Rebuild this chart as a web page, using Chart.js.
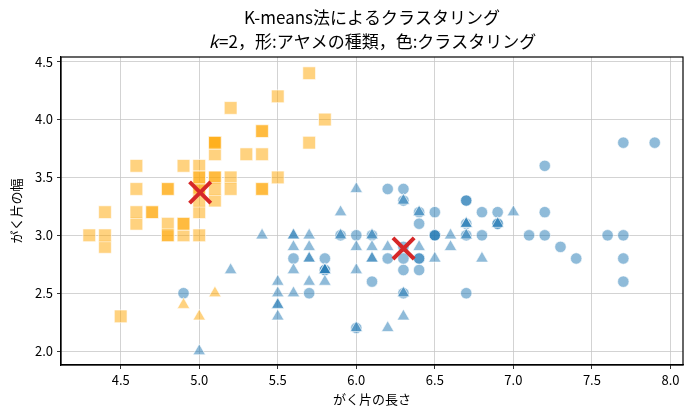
<!DOCTYPE html>
<html>
<head>
<meta charset="utf-8">
<script src="https://cdn.jsdelivr.net/npm/chart.js@4.4.0/dist/chart.umd.min.js"></script>
<style>
  html, body { margin: 0; padding: 0; background: #fff; }
  #wrap { width: 691px; height: 418px; position: relative; }
</style>
</head>
<body>
<div id="wrap"><canvas id="kmeansChart"></canvas></div>
<script>
// がく片の長さ / 幅 (iris), 形 = 種類, 色 = クラスタ
const setosaLen = [5.1,4.9,4.7,4.6,5.0,5.4,4.6,5.0,4.4,4.9,5.4,4.8,4.8,4.3,5.8,5.7,5.4,5.1,5.7,5.1,5.4,5.1,4.6,5.1,4.8,5.0,5.0,5.2,5.2,4.7,4.8,5.4,5.2,5.5,4.9,5.0,5.5,4.9,4.4,5.1,5.0,4.5,4.4,5.0,5.1,4.8,5.1,4.6,5.3,5.0];
const setosaWid = [3.5,3.0,3.2,3.1,3.6,3.9,3.4,3.4,2.9,3.1,3.7,3.4,3.0,3.0,4.0,4.4,3.9,3.5,3.8,3.8,3.4,3.7,3.6,3.3,3.4,3.0,3.4,3.5,3.4,3.2,3.1,3.4,4.1,4.2,3.1,3.2,3.5,3.6,3.0,3.4,3.5,2.3,3.2,3.5,3.8,3.0,3.8,3.2,3.7,3.3];

const versiOrangeLen = [4.9,5.0,5.1];
const versiOrangeWid = [2.4,2.3,2.5];

const versiBlueLen = [7.0,6.4,6.9,5.5,6.5,5.7,6.3,6.6,5.2,5.0,5.9,6.0,6.1,5.6,6.7,5.6,5.8,6.2,5.6,5.9,6.1,6.3,6.1,6.4,6.6,6.8,6.7,6.0,5.7,5.5,5.5,5.8,6.0,5.4,6.0,6.7,6.3,5.6,5.5,5.5,6.1,5.8,5.6,5.7,5.7,6.2,5.7];
const versiBlueWid = [3.2,3.2,3.1,2.3,2.8,2.8,3.3,2.9,2.7,2.0,3.0,2.2,2.9,2.9,3.1,3.0,2.7,2.2,2.5,3.2,2.8,2.5,2.8,2.9,3.0,2.8,3.0,2.9,2.6,2.4,2.4,2.7,2.7,3.0,3.4,3.1,2.3,3.0,2.5,2.6,3.0,2.6,2.7,3.0,2.9,2.9,2.8];

const virgLen = [6.3,5.8,7.1,6.3,6.5,7.6,4.9,7.3,6.7,7.2,6.5,6.4,6.8,5.7,5.8,6.4,6.5,7.7,7.7,6.0,6.9,5.6,7.7,6.3,6.7,7.2,6.2,6.1,6.4,7.2,7.4,7.9,6.4,6.3,6.1,7.7,6.3,6.4,6.0,6.9,6.7,6.9,5.8,6.8,6.7,6.7,6.3,6.5,6.2,5.9];
const virgWid = [3.3,2.7,3.0,2.9,3.0,3.0,2.5,2.9,2.5,3.6,3.2,2.7,3.0,2.5,2.8,3.2,3.0,3.8,2.6,2.2,3.2,2.8,2.8,2.7,3.3,3.2,2.8,3.0,2.8,3.0,2.8,3.8,2.8,2.8,2.6,3.0,3.4,3.1,3.0,3.1,3.1,3.1,2.7,3.2,3.3,3.0,2.5,3.0,3.4,3.0];

const centerLen = [5.006, 6.301];
const centerWid = [3.370, 2.887];

const xTicks = [4.5, 5.0, 5.5, 6.0, 6.5, 7.0, 7.5, 8.0];
const yTicks = [2.0, 2.5, 3.0, 3.5, 4.0, 4.5];

const titleLine1 = 'K-means法によるクラスタリング';
const titleK = 'k';
const titleRest = '=2，形:アヤメの種類，色:クラスタリング';
const xLabel = 'がく片の長さ';
const yLabel = 'がく片の幅';

const fontName = '"Noto Sans CJK JP", "Noto Sans", sans-serif';
const orange = 'rgba(255, 165, 0, 0.5)';
const blue = 'rgba(31, 119, 180, 0.5)';
const edge = 'rgba(255, 255, 255, 0.6)';

function pts(xs, ys) {
    return xs.map((x, i) => ({ x: x, y: ys[i] }));
}

// タイトル・軸ラベル・枠線
const decorPlugin = {
    id: 'decor',
    afterDraw(chart) {
        const ctx = chart.ctx;
        const a = chart.chartArea;
        const cx = (a.left + a.right) / 2;
        ctx.save();
        ctx.strokeStyle = '#000';
        ctx.lineWidth = 1.2;
        ctx.strokeRect(a.left, a.top, a.right - a.left, a.bottom - a.top);

        ctx.fillStyle = '#000';
        ctx.textBaseline = 'middle';
        ctx.textAlign = 'center';
        ctx.font = '17px ' + fontName;
        ctx.fillText(titleLine1, cx, 18);

        // 2行目: k はイタリック
        ctx.font = 'italic 17px ' + fontName;
        const wK = ctx.measureText(titleK).width;
        ctx.font = '17px ' + fontName;
        const wR = ctx.measureText(titleRest).width;
        const x0 = cx - (wK + wR) / 2;
        ctx.textAlign = 'left';
        ctx.font = 'italic 17px ' + fontName;
        ctx.fillText(titleK, x0, 42);
        ctx.font = '17px ' + fontName;
        ctx.fillText(titleRest, x0 + wK + 1, 42);

        ctx.textAlign = 'center';
        ctx.font = '13px ' + fontName;
        ctx.fillText(xLabel, cx, 399);
        ctx.translate(16, (a.top + a.bottom) / 2);
        ctx.rotate(-Math.PI / 2);
        ctx.fillText(yLabel, 0, 0);
        ctx.restore();
    }
};

const ctx1 = document.getElementById('kmeansChart');
new Chart(ctx1.getContext('2d'), {
    type: 'scatter',
    data: {
        datasets: [{
            label: 'centers',
            data: pts(centerLen, centerWid),
            pointStyle: 'crossRot',
            pointRadius: 15,
            borderColor: '#d62728',
            borderWidth: 4,
            order: 0
        }, {
            label: 'setosa',
            data: pts(setosaLen, setosaWid),
            pointStyle: 'rect',
            pointRadius: 9,
            backgroundColor: orange,
            borderColor: edge,
            borderWidth: 1,
            order: 1
        }, {
            label: 'versicolor-0',
            data: pts(versiOrangeLen, versiOrangeWid),
            pointStyle: 'triangle',
            pointRadius: 7.2,
            backgroundColor: orange,
            borderColor: edge,
            borderWidth: 1,
            order: 1
        }, {
            label: 'versicolor-1',
            data: pts(versiBlueLen, versiBlueWid),
            pointStyle: 'triangle',
            pointRadius: 7.2,
            backgroundColor: blue,
            borderColor: edge,
            borderWidth: 1,
            order: 1
        }, {
            label: 'virginica',
            data: pts(virgLen, virgWid),
            pointStyle: 'circle',
            pointRadius: 5.7,
            backgroundColor: blue,
            borderColor: edge,
            borderWidth: 1,
            order: 1
        }]
    },
    options: {
        responsive: true,
        maintainAspectRatio: false,
        animation: false,
        layout: { autoPadding: false, padding: { top: 57, right: 8, left: 0, bottom: 0 } },
        plugins: {
            legend: { display: false },
            tooltip: { enabled: false }
        },
        scales: {
            x: {
                type: 'linear',
                min: 4.12,
                max: 8.08,
                afterBuildTicks: (s) => { s.ticks = xTicks.map(v => ({ value: v })); },
                afterFit: (s) => { s.height = 53; s.paddingLeft = 0; s.paddingRight = 0; },
                grid: { color: '#c8c8c8', lineWidth: 0.8, tickColor: '#000', tickLength: 4 },
                border: { color: '#000', width: 1.2 },
                ticks: {
                    color: '#000',
                    padding: 3,
                    maxRotation: 0,
                    font: { family: fontName, size: 13 },
                    callback: (v) => v.toFixed(1)
                }
            },
            y: {
                type: 'linear',
                min: 1.88,
                max: 4.54,
                afterBuildTicks: (s) => { s.ticks = yTicks.map(v => ({ value: v })); },
                afterFit: (s) => { s.width = 61; s.paddingTop = 0; s.paddingBottom = 0; },
                grid: { color: '#c8c8c8', lineWidth: 0.8, tickColor: '#000', tickLength: 4 },
                border: { color: '#000', width: 1.2 },
                ticks: {
                    color: '#000',
                    padding: 4,
                    font: { family: fontName, size: 13 },
                    callback: (v) => v.toFixed(1)
                }
            }
        }
    },
    plugins: [decorPlugin]
});
</script>
</body>
</html>
